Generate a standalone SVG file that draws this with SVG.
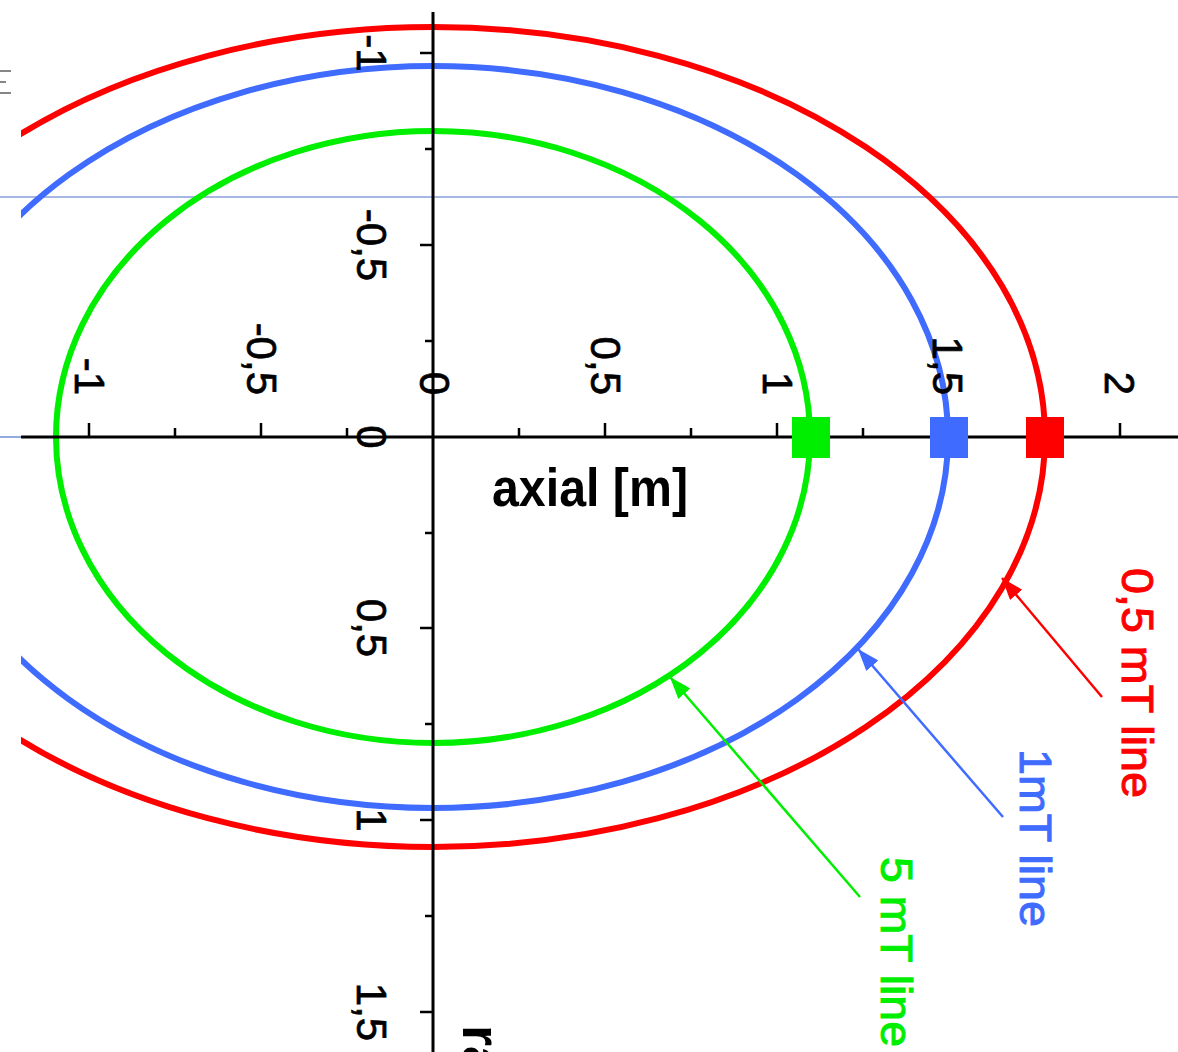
<svg xmlns="http://www.w3.org/2000/svg" width="1178" height="1052" viewBox="0 0 1178 1052">
<style>
.ax{stroke:#000;stroke-width:3;fill:none}
.tk{stroke:#000;stroke-width:2.5}
.lbl{font-family:"Liberation Sans",Arial,sans-serif;font-size:42px;fill:#000;stroke:#000;stroke-width:0.7}
.ttl{font-family:"Liberation Sans",Arial,sans-serif;font-size:54px;font-weight:bold;fill:#000}
.cap{font-family:"Liberation Sans",Arial,sans-serif;font-size:44px;stroke-width:1}
.curve{fill:none;stroke-width:6}
</style>
<defs>
<clipPath id="plot"><rect x="21" y="0" width="1157" height="1052"/></clipPath>
<marker id="ar" markerUnits="userSpaceOnUse" markerWidth="24" markerHeight="18" refX="22" refY="8" orient="auto"><path d="M0,0 L22,8 L0,16 z" fill="#ff0000"/></marker>
<marker id="ab" markerUnits="userSpaceOnUse" markerWidth="24" markerHeight="18" refX="22" refY="8" orient="auto"><path d="M0,0 L22,8 L0,16 z" fill="#3f6bff"/></marker>
<marker id="ag" markerUnits="userSpaceOnUse" markerWidth="24" markerHeight="18" refX="22" refY="8" orient="auto"><path d="M0,0 L22,8 L0,16 z" fill="#00ee00"/></marker>
</defs>
<rect width="1178" height="1052" fill="#fff"/>
<g id="guides">
<line x1="0" y1="197" x2="1178" y2="197" stroke="#4a72c8" stroke-width="1.2"/>
<line x1="0" y1="437" x2="30" y2="437" stroke="#4a72c8" stroke-width="1.2"/>
<line x1="0" y1="71" x2="11" y2="71" stroke="#444" stroke-width="1.3"/>
<line x1="0" y1="82" x2="6" y2="82" stroke="#444" stroke-width="1.3"/>
<line x1="0" y1="93" x2="11" y2="93" stroke="#444" stroke-width="1.3"/>
</g>
<g id="curves" clip-path="url(#plot)">
<ellipse id="line-5mT" cx="433" cy="437" rx="377" ry="306" class="curve" stroke="#00ee00"/>
<ellipse id="line-1mT" cx="433" cy="437" rx="515" ry="371" class="curve" stroke="#3f6bff"/>
<ellipse id="line-05mT" cx="433" cy="437" rx="612" ry="410" class="curve" stroke="#ff0000"/>
</g>
<g id="axes">
<line x1="21" y1="437" x2="1178" y2="437" class="ax"/>
<line x1="433" y1="12" x2="433" y2="1052" class="ax"/>
<g class="tk">
<line x1="89" y1="423" x2="89" y2="437"/><line x1="175" y1="428" x2="175" y2="437"/>
<line x1="261" y1="423" x2="261" y2="437"/><line x1="347" y1="428" x2="347" y2="437"/>
<line x1="519" y1="428" x2="519" y2="437"/><line x1="605" y1="423" x2="605" y2="437"/>
<line x1="691" y1="428" x2="691" y2="437"/><line x1="777" y1="423" x2="777" y2="437"/>
<line x1="863" y1="428" x2="863" y2="437"/><line x1="948" y1="423" x2="948" y2="437"/>
<line x1="1034" y1="428" x2="1034" y2="437"/><line x1="1120" y1="423" x2="1120" y2="437"/>
<line x1="420" y1="53" x2="433" y2="53"/><line x1="425" y1="149" x2="433" y2="149"/>
<line x1="420" y1="245" x2="433" y2="245"/><line x1="425" y1="341" x2="433" y2="341"/>
<line x1="425" y1="533" x2="433" y2="533"/><line x1="420" y1="628" x2="433" y2="628"/>
<line x1="425" y1="724" x2="433" y2="724"/><line x1="420" y1="820" x2="433" y2="820"/>
<line x1="425" y1="916" x2="433" y2="916"/><line x1="420" y1="1012" x2="433" y2="1012"/>
</g>
<g class="lbl" text-anchor="end">
<text transform="translate(75,395) rotate(90)">-1</text>
<text transform="translate(247,395) rotate(90)">-0,5</text>
<text transform="translate(420,395) rotate(90)">0</text>
<text transform="translate(591,395) rotate(90)">0,5</text>
<text transform="translate(763,395) rotate(90)">1</text>
<text transform="translate(933,395) rotate(90)">1,5</text>
<text transform="translate(1105,395) rotate(90)">2</text>
</g>
<g class="lbl" text-anchor="middle">
<text transform="translate(357,53) rotate(90)">-1</text>
<text transform="translate(357,245) rotate(90)">-0,5</text>
<text transform="translate(357,437) rotate(90)">0</text>
<text transform="translate(357,628) rotate(90)">0,5</text>
<text transform="translate(357,820) rotate(90)">1</text>
<text transform="translate(357,1012) rotate(90)">1,5</text>
</g>
<text class="ttl" x="492" y="506" textLength="196" lengthAdjust="spacingAndGlyphs">axial [m]</text>
<text class="ttl" transform="translate(463,1025) rotate(90)">radial [m]</text>
</g>
<g id="markers">
<rect id="m-5mT" x="792" y="417" width="38" height="41" fill="#00ee00"/>
<rect id="m-1mT" x="930" y="417" width="38" height="41" fill="#3f6bff"/>
<rect id="m-05mT" x="1026" y="417" width="38" height="41" fill="#ff0000"/>
</g>
<g id="connectors" stroke-width="2.5">
<line x1="1102" y1="697" x2="1002" y2="578" stroke="#ff0000" marker-end="url(#ar)"/>
<line x1="1003" y1="817" x2="858" y2="649" stroke="#3f6bff" marker-end="url(#ab)"/>
<line x1="860" y1="897" x2="670" y2="677" stroke="#00ee00" marker-end="url(#ag)"/>
</g>
<g id="labels" class="cap">
<text id="lbl-05mT" transform="translate(1122,568) rotate(90)" fill="#ff0000" stroke="#ff0000" textLength="230" lengthAdjust="spacingAndGlyphs">0,5 mT line</text>
<text id="lbl-1mT" transform="translate(1020,749) rotate(90)" fill="#3f6bff" stroke="#3f6bff" textLength="178" lengthAdjust="spacingAndGlyphs">1mT line</text>
<text id="lbl-5mT" transform="translate(881,857) rotate(90)" fill="#00ee00" stroke="#00ee00" textLength="190" lengthAdjust="spacingAndGlyphs">5 mT line</text>
</g>
</svg>
